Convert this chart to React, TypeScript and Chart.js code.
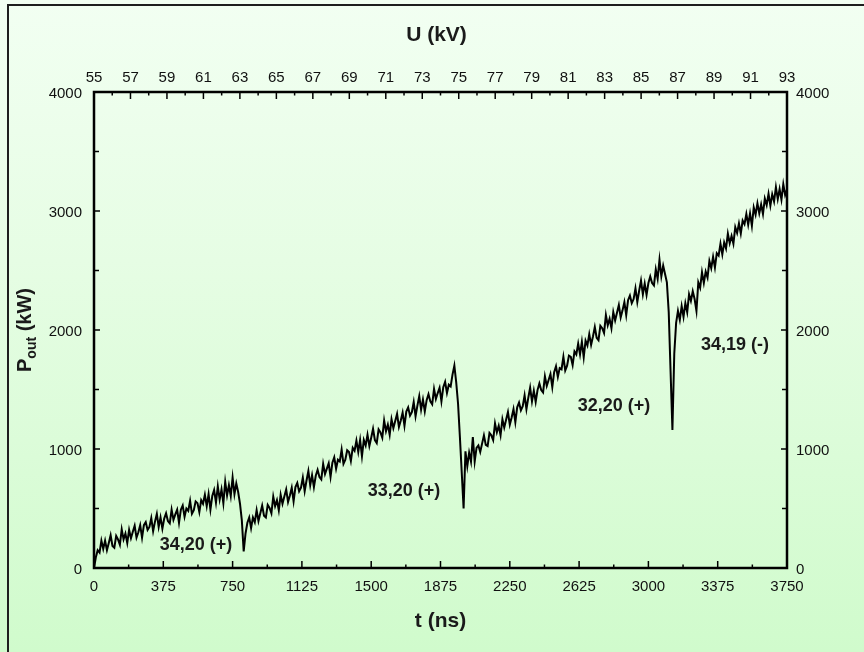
import React, { useEffect, useRef } from "react";
import { Chart, registerables } from "chart.js";

Chart.register(...registerables);

// sampling step of the recorded trace (ns)
const T_STEP = 10;

// output power P_out (kW), one value per T_STEP
const P_OUT = [
  0, 90, 150, 130, 230, 160, 230, 150, 210, 275,
  185, 170, 270, 240, 195, 325, 240, 290, 210, 320,
  250, 305, 355, 255, 300, 360, 255, 360, 385, 320,
  345, 420, 310, 390, 455, 345, 425, 330, 415, 460,
  395, 375, 490, 405, 450, 490, 380, 490, 525, 430,
  500, 480, 565, 455, 485, 560, 545, 470, 570, 540,
  615, 520, 620, 490, 605, 655, 550, 685, 575, 660,
  545, 725, 610, 695, 605, 760, 620, 710, 640, 540,
  400, 140, 290, 380, 425, 335, 425, 385, 485, 395,
  460, 525, 440, 425, 530, 505, 460, 600, 520, 570,
  485, 615, 540, 600, 660, 555, 610, 675, 560, 680,
  715, 645, 675, 760, 645, 735, 815, 695, 780, 680,
  775, 825, 765, 745, 875, 790, 835, 880, 765, 885,
  930, 835, 910, 895, 995, 875, 910, 990, 975, 900,
  1010, 985, 1070, 975, 1075, 940, 1075, 1030, 1120, 1025,
  1095, 1170, 1075, 1050, 1165, 1140, 1095, 1240, 1150, 1205,
  1120, 1250, 1175, 1235, 1295, 1185, 1240, 1305, 1195, 1315,
  1350, 1280, 1310, 1395, 1275, 1365, 1445, 1330, 1415, 1315,
  1410, 1460, 1400, 1375, 1505, 1420, 1470, 1515, 1400, 1520,
  1565, 1470, 1540, 1525, 1625, 1700, 1560, 1380, 1100, 800,
  500, 980, 855, 970, 895, 1100, 895, 1010, 1030, 975,
  1045, 1115, 1035, 1025, 1135, 1115, 1075, 1215, 1140, 1195,
  1115, 1250, 1180, 1245, 1310, 1205, 1265, 1335, 1225, 1350,
  1390, 1325, 1360, 1450, 1335, 1430, 1515, 1400, 1490, 1395,
  1495, 1550, 1495, 1475, 1610, 1530, 1580, 1630, 1520, 1645,
  1695, 1605, 1680, 1670, 1775, 1660, 1700, 1785, 1775, 1705,
  1820, 1795, 1885, 1795, 1900, 1770, 1910, 1870, 1965, 1875,
  1945, 2025, 1935, 1915, 2035, 2015, 1975, 2125, 2040, 2095,
  2015, 2150, 2080, 2145, 2210, 2105, 2165, 2235, 2125, 2250,
  2290, 2225, 2260, 2350, 2235, 2330, 2415, 2300, 2390, 2295,
  2395, 2450, 2395, 2375, 2510, 2430, 2590, 2450, 2540, 2470,
  2400, 2150, 1650, 1160, 1800, 2060, 2160, 2085, 2200, 2110,
  2225, 2150, 2300, 2245, 2325, 2260, 2160, 2400, 2355, 2485,
  2395, 2490, 2440, 2580, 2520, 2615, 2525, 2645, 2625, 2725,
  2635, 2735, 2685, 2810, 2730, 2790, 2725, 2865, 2815, 2895,
  2810, 2920, 2890, 2975, 2885, 2980, 2875, 3030, 2970, 3065,
  2980, 3055, 2975, 3105, 3050, 3145, 3045, 3140, 3080, 3200,
  3100, 3185, 3095, 3225, 3135, 3180,
];

const T_NS = P_OUT.map((_, i) => i * T_STEP);

// axis ticks
const T_TICKS = [0, 375, 750, 1125, 1500, 1875, 2250, 2625, 3000, 3375, 3750];
const U_TICKS = [55, 57, 59, 61, 63, 65, 67, 69, 71, 73, 75, 77, 79, 81, 83, 85, 87, 89, 91, 93];
const P_TICKS = [0, 1000, 2000, 3000, 4000];

// mode annotations
const MODE_LABELS = ["34,20 (+)", "33,20 (+)", "32,20 (+)", "34,19 (-)"];
const MODE_T = [552, 1677, 2814, 3469];
const MODE_P = [193, 647, 1361, 1870];

const FONT = '"Liberation Sans", Arial, Helvetica, sans-serif';

const decorPlugin = {
  id: "decor",
  afterDatasetsDraw(chart: any) {
    const { ctx, chartArea: a, scales } = chart;
    const xs = scales.x;
    const xu = scales.xu;
    const ys = scales.y;
    ctx.save();
    ctx.strokeStyle = "#000";
    ctx.lineWidth = 1.5;
    const seg = (x1: number, y1: number, x2: number, y2: number) => {
      ctx.beginPath();
      ctx.moveTo(x1, y1);
      ctx.lineTo(x2, y2);
      ctx.stroke();
    };
    T_TICKS.forEach((v, i) => {
      const px = xs.getPixelForValue(v);
      seg(px, a.bottom, px, a.bottom - 7);
      if (i < T_TICKS.length - 1) {
        const m = xs.getPixelForValue((v + T_TICKS[i + 1]) / 2);
        seg(m, a.bottom, m, a.bottom - 3.5);
      }
    });
    U_TICKS.forEach((v, i) => {
      const px = xu.getPixelForValue(v);
      seg(px, a.top, px, a.top + 7);
      if (i < U_TICKS.length - 1) {
        const m = xu.getPixelForValue((v + U_TICKS[i + 1]) / 2);
        seg(m, a.top, m, a.top + 3.5);
      }
    });
    P_TICKS.forEach((v, i) => {
      const py = ys.getPixelForValue(v);
      seg(a.left, py, a.left + 6, py);
      seg(a.right, py, a.right - 6, py);
      if (i < P_TICKS.length - 1) {
        const m = ys.getPixelForValue((v + P_TICKS[i + 1]) / 2);
        seg(a.left, m, a.left + 5, m);
        seg(a.right, m, a.right - 5, m);
      }
    });
    ctx.lineWidth = 2.5;
    ctx.strokeRect(a.left, a.top, a.right - a.left, a.bottom - a.top);

    ctx.fillStyle = "#1a1a1a";
    ctx.font = `bold 18px ${FONT}`;
    ctx.textAlign = "center";
    ctx.textBaseline = "middle";
    MODE_LABELS.forEach((lab, i) => {
      ctx.fillText(lab, xs.getPixelForValue(MODE_T[i]), ys.getPixelForValue(MODE_P[i]));
    });

    const cx = (a.left + a.right) / 2;
    const cy = (a.top + a.bottom) / 2;
    ctx.font = `bold 21px ${FONT}`;
    ctx.fillText("U (kV)", cx - 4, 35);
    ctx.fillText("t (ns)", cx, 621);

    ctx.translate(24, cy);
    ctx.rotate(-Math.PI / 2);
    ctx.textAlign = "left";
    ctx.textBaseline = "alphabetic";
    const big = `bold 20px ${FONT}`;
    const small = `bold 14px ${FONT}`;
    ctx.font = big;
    const wP = ctx.measureText("P").width;
    const wRest = ctx.measureText(" (kW)").width;
    ctx.font = small;
    const wSub = ctx.measureText("out").width;
    let x0 = -(wP + wSub + wRest) / 2;
    ctx.font = big;
    ctx.fillText("P", x0, 7);
    x0 += wP;
    ctx.font = small;
    ctx.fillText("out", x0, 12);
    x0 += wSub;
    ctx.font = big;
    ctx.fillText(" (kW)", x0, 7);
    ctx.restore();
  },
};

export default function App() {
  const ref = useRef<HTMLCanvasElement | null>(null);

  useEffect(() => {
    if (!ref.current) return;
    const tickFont = { family: FONT, size: 15 };
    const plain = (v: any) => String(v);
    const chart = new Chart(ref.current, {
      type: "line",
      data: {
        datasets: [
          {
            data: T_NS.map((t, i) => ({ x: t, y: P_OUT[i] })),
            borderColor: "#000",
            borderWidth: 2,
            pointRadius: 0,
            tension: 0,
            fill: false,
          },
        ],
      },
      options: {
        animation: false,
        responsive: false,
        devicePixelRatio: 1,
        layout: { padding: 0 },
        plugins: { legend: { display: false }, tooltip: { enabled: false } },
        scales: {
          x: {
            type: "linear",
            position: "bottom",
            min: 0,
            max: 3750,
            grid: { display: false, drawTicks: false },
            border: { display: false },
            ticks: { color: "#111", font: tickFont, padding: 10, maxRotation: 0, autoSkip: false, callback: plain },
            afterBuildTicks: (s: any) => {
              s.ticks = T_TICKS.map((v) => ({ value: v }));
            },
            afterFit: (s: any) => {
              s.height = 84;
            },
          },
          xu: {
            type: "linear",
            position: "top",
            min: 55,
            max: 93,
            grid: { display: false, drawTicks: false },
            border: { display: false },
            ticks: { color: "#111", font: tickFont, padding: 5, maxRotation: 0, autoSkip: false, callback: plain },
            afterBuildTicks: (s: any) => {
              s.ticks = U_TICKS.map((v) => ({ value: v }));
            },
            afterFit: (s: any) => {
              s.height = 92;
            },
          },
          y: {
            type: "linear",
            position: "left",
            min: 0,
            max: 4000,
            grid: { display: false, drawTicks: false },
            border: { display: false },
            ticks: { color: "#111", font: tickFont, padding: 12, labelOffset: 2, callback: plain },
            afterBuildTicks: (s: any) => {
              s.ticks = P_TICKS.map((v) => ({ value: v }));
            },
            afterFit: (s: any) => {
              s.width = 94;
            },
          },
          y2: {
            type: "linear",
            position: "right",
            min: 0,
            max: 4000,
            grid: { display: false, drawTicks: false },
            border: { display: false },
            ticks: { color: "#111", font: tickFont, padding: 9, labelOffset: 2, callback: plain },
            afterBuildTicks: (s: any) => {
              s.ticks = P_TICKS.map((v) => ({ value: v }));
            },
            afterFit: (s: any) => {
              s.width = 77;
            },
          },
        },
      },
      plugins: [decorPlugin],
    } as any);
    return () => chart.destroy();
  }, []);

  return (
    <div
      style={{
        position: "absolute",
        left: 0,
        top: 0,
        width: 864,
        height: 652,
        overflow: "hidden",
        background: "linear-gradient(to bottom, #f2fff2 0%, #e6fde4 40%, #d0fbcc 100%)",
      }}
    >
      <div
        style={{
          position: "absolute",
          left: 7,
          top: 4,
          width: 1000,
          height: 1000,
          borderLeft: "2px solid #1e1e1e",
          borderTop: "2px solid #1e1e1e",
        }}
      />
      <canvas ref={ref} width={864} height={652} style={{ position: "absolute", left: 0, top: 0 }} />
    </div>
  );
}
